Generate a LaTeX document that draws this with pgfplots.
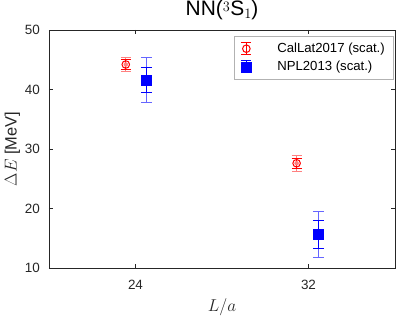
\documentclass[border=0pt]{standalone}
\usepackage{fontspec}
\setmainfont{Liberation Sans}
\usepackage{pgfplots}
\pgfplotsset{compat=1.18}
\definecolor{axgray}{gray}{0.15}
\newcommand{\smallm}[1]{{\fontsize{13.5}{14}\selectfont$#1$}}
\begin{document}
\begin{tikzpicture}
\begin{axis}[
  name=ax,
  scale only axis, width=346bp, height=238bp,
  xmin=20, xmax=36, ymin=10, ymax=50,
  xtick={24,32}, ytick={10,20,30,40,50},
  /pgf/number format/assume math mode=true,
  tick label style={font=\fontsize{13.5}{15}\selectfont, text=axgray, inner sep=0pt},
  xticklabel style={anchor=base, yshift=-21bp},
  yticklabel style={anchor=east, xshift=-9bp},
  title={NN(\raisebox{4bp}{\smallm{3}}\kern0.5bp S\raisebox{-3.3bp}{\smallm{1}})},
  title style={font=\fontsize{21}{24}\selectfont, at={(axis description cs:0.5,1)}, anchor=base, yshift=9bp, inner sep=0pt},
  xlabel={$L/a$}, ylabel={$\Delta E$ [MeV]},
  label style={font=\fontsize{16.5}{18}\selectfont, text=axgray, inner sep=0pt},
  xlabel style={at={(axis description cs:0.5,0)}, anchor=base, yshift=-43bp},
  ylabel style={at={(axis description cs:-0.1055,0.5)}, anchor=center},
  axis line style={axgray}, tick style={axgray},
  major tick length=4bp,
  legend style={at={(axis description cs:1,1)}, anchor=north east,
    xshift=-2bp, yshift=-6bp,
    font=\fontsize{13.2}{15}\selectfont, draw=black!30,
    inner xsep=6bp, inner ysep=5bp, row sep=3bp, column sep=21bp},
  legend cell align=left,
  legend image code/.code={
    \path[draw=none,fill=none] (-6bp,-6bp) rectangle (8bp,6bp);
    \draw[#1,mark=none,line width=0.8pt] (0bp,-6bp) -- (0bp,6bp);
    \draw[#1,mark=none,line width=0.8pt] (-5bp,-6bp) -- (5bp,-6bp);
    \draw[#1,mark=none,line width=0.8pt] (-5bp,6bp) -- (5bp,6bp);
    \draw[#1,only marks] plot coordinates {(0bp,0bp)};
  },
]
% outer (total) error bars
\addplot[only marks, mark=none, color=red!50, forget plot,
  error bars/.cd, y dir=both, y explicit,
  error bar style={color=red!50, line width=1.2pt},
  error mark options={rotate=90, mark size=5pt, color=red!50, line width=1.2pt}]
  coordinates {(23.55,44.2) +- (0,1.2) (31.45,27.6) +- (0,1.35)};
\addplot[only marks, mark=none, color=blue!60, forget plot,
  error bars/.cd, y dir=both, y explicit,
  error bar style={color=blue!60, line width=1.2pt},
  error mark options={rotate=90, mark size=5.5pt, color=blue!60, line width=1.2pt}]
  coordinates {(24.5,41.6) +- (0,3.78) (32.45,15.66) +- (0,3.85)};
% inner (statistical) error bars with markers
\addplot[only marks, color=red, mark=o, mark size=3.8pt, mark options={line width=1pt, fill=none, draw=red},
  error bars/.cd, y dir=both, y explicit,
  error bar style={color=red, line width=0.9pt},
  error mark options={rotate=90, mark size=5pt, color=red, line width=0.9pt}]
  coordinates {(23.55,44.2) +- (0,0.8) (31.45,27.6) +- (0,0.85)};
\addlegendentry{CalLat2017 (scat.)}
\addplot[only marks, color=blue, mark=square*, mark size=5bp, mark options={fill=blue, draw=blue},
  error bars/.cd, y dir=both, y explicit,
  error bar style={color=blue, line width=0.9pt},
  error mark options={rotate=90, mark size=5.5pt, color=blue, line width=0.9pt}]
  coordinates {(24.5,41.6) +- (0,2.15) (32.45,15.66) +- (0,2.3)};
\addlegendentry{NPL2013 (scat.)}
\end{axis}
\pgfresetboundingbox
\path ([shift={(-49bp,-48bp)}]ax.south west) rectangle ([shift={(4bp,30bp)}]ax.north east);
\end{tikzpicture}
\end{document}
